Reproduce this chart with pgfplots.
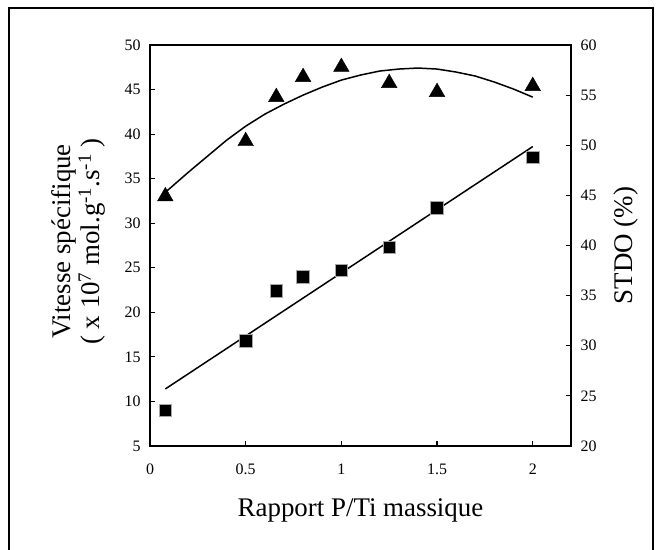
\documentclass[border=0pt]{standalone}
\usepackage{fontspec}
\setmainfont{Liberation Serif}
\usepackage{pgfplots}
\pgfplotsset{compat=1.18}
\begin{document}
\begin{tikzpicture}[x=1bp,y=1bp]
\useasboundingbox (0,0) rectangle (661,550);
\draw[line width=2bp] (9,0) -- (9,542) -- (653,542) -- (653,0);
\pgfplotsset{
  common/.style={
    at={(150bp,104bp)}, anchor=south west,
    scale only axis, width=421bp, height=401bp,
    xmin=0, xmax=2.2,
    axis line style={line width=1.6bp},
    tick style={line width=1.2bp, black},
    major tick length=5bp,
    tick align=inside,
    /pgf/number format/assume math mode=true,
    tick label style={font=\fontsize{16}{19}\selectfont},
    label style={font=\fontsize{27}{30}\selectfont},
  }
}
\begin{axis}[common,
  ymin=5, ymax=50,
  ytick={5,10,...,50},
  xtick={0,0.5,1,1.5,2},
  xticklabels={0,0.5,1,1.5,2},
  xtick pos=lower, ytick pos=left,
  xticklabel shift=14bp,
  yticklabel shift=6bp,
  xlabel={Rapport P/Ti massique},
  xlabel style={at={(axis description cs:0.5,-0.16)}, anchor=center},
  ylabel={Vitesse spécifique\\( x 10\textsuperscript{7} mol.g\textsuperscript{-1}.s\textsuperscript{-1} )},
  ylabel style={at={(axis description cs:-0.17,0.51)}, anchor=center, align=center},
]
\addplot[black, line width=1.5bp] coordinates {(0.08,11.4) (2.0,38.6)};
\addplot[only marks, mark=square*, mark size=6.3bp,
  mark options={fill=black, draw=gray!70, line width=0.8bp}] coordinates {
  (0.08,9.0) (0.5,16.8) (0.66,22.4) (0.8,24.0) (1.0,24.7) (1.25,27.3) (1.5,31.7) (2.0,37.4)
};
\end{axis}
\begin{axis}[common,
  ymin=20, ymax=60,
  ytick={20,25,...,60},
  axis x line=none,
  axis y line*=right,
  yticklabel shift=6bp,
  ylabel={STDO (\%)},
  ylabel style={at={(axis description cs:1.131,0.5)}, anchor=center},
]
\addplot[black, line width=1.5bp] coordinates {
  (0.08,45.3) (0.2,47.3) (0.3,48.9) (0.4,50.5) (0.5,51.9) (0.6,53.1) (0.7,54.1)
  (0.8,55.0) (0.9,55.8) (1.0,56.5) (1.1,57.0) (1.2,57.4) (1.3,57.6) (1.4,57.7)
  (1.5,57.6) (1.6,57.3) (1.7,56.9) (1.8,56.3) (1.9,55.6) (2.0,54.8)
};
\addplot[only marks, mark=triangle*, mark size=9bp, mark options={fill=black, draw=black}] coordinates {
  (0.08,44.9) (0.5,50.4) (0.66,54.8) (0.8,56.8) (1.0,57.8) (1.25,56.2) (1.5,55.3) (2.0,55.9)
};
\end{axis}
\end{tikzpicture}
\end{document}
